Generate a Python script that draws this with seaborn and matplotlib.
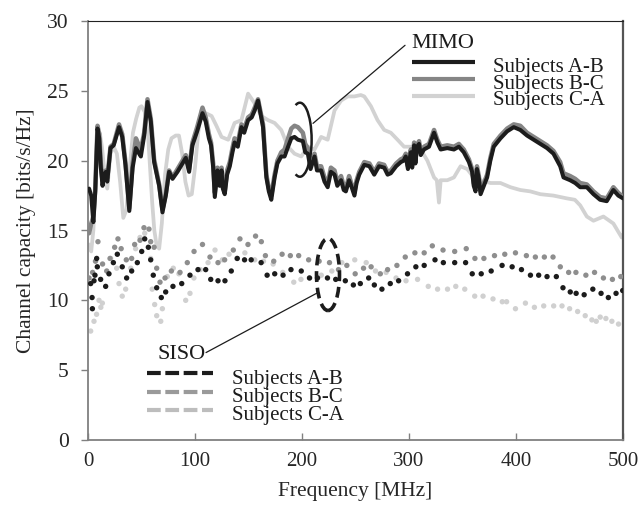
import numpy as np
import pandas as pd
import matplotlib
matplotlib.use("Agg")
import matplotlib.pyplot as plt
from matplotlib.patches import Arc, Ellipse
import seaborn as sns

# ---------------- data ----------------
series_labels = ["Subjects A-B", "Subjects B-C", "Subjects C-A"]

mimo_freq = [1, 3, 5, 6.8, 7.9, 8.9, 10.5, 12, 13.6, 15, 16.7, 18, 21, 24, 29, 32, 35, 38.6, 41.7, 44.8,
             47, 49.4, 52.5, 55.6, 58.7, 61.8, 66.5, 69.6, 72.7, 75.8, 79, 83.6, 88.3, 91.4, 94.5, 97.6,
             102, 107, 110, 113, 115, 117, 118.5, 121, 123, 124.8, 126, 127.8, 130, 132.5, 135, 137, 140,
             143.4, 146, 149.6, 153, 155.8, 158.9, 163.6, 166.7, 169, 171.3, 174.4, 177, 180.6, 183.7, 187,
             190, 193, 196.2, 200.8, 203, 205.5, 208, 211.7, 214, 217.9, 221, 224, 227, 230.4, 233, 236.5,
             239, 241, 244, 246, 249, 251, 253.5, 258.2, 263, 267.5, 272, 276.8, 280, 283, 288, 292.4, 295,
             297, 299, 301.7, 303, 304.8, 306, 307.5, 309.4, 311, 314, 318.7, 323.4, 326.5, 329.6, 335.8,
             342, 346.6, 351.2, 356, 359, 360.5, 362.2, 363.5, 365.3, 366.9, 370, 373, 376, 379.2, 385.5,
             391.7, 397.9, 404, 410.3, 416.5, 422.7, 429, 435, 441.3, 444.4, 450.6, 455.3, 460, 466.2,
             472.4, 478.6, 484.8, 491, 495.6, 500]
mimo_ab = [18.0, 17.5, 15.6, 17.8, 20.3, 22.3, 21.6, 19.5, 18.2, 19.0, 19.2, 18.5, 20.9, 21.1, 22.4, 21.7,
           19.7, 16.4, 19.5, 20.9, 20.6, 20.3, 21.8, 24.2, 22.8, 19.9, 18.2, 16.3, 17.5, 19.2, 18.7, 19.2,
           19.8, 20.2, 19.2, 21.1, 22.1, 23.4, 22.8, 21.6, 21.1, 19.5, 17.4, 19.3, 18.2, 19.3, 18.0, 17.6,
           19.0, 19.6, 20.6, 21.3, 21.0, 22.4, 22.0, 22.9, 23.1, 23.6, 24.3, 22.4, 18.8, 17.8, 17.2, 18.8,
           19.8, 20.3, 20.3, 21.0, 21.6, 21.7, 21.5, 21.4, 20.6, 20.5, 19.4, 20.3, 19.3, 19.3, 18.5, 18.1,
           19.2, 19.0, 18.2, 18.6, 17.9, 17.8, 18.6, 18.2, 17.5, 18.4, 19.0, 19.7, 19.6, 19.0, 19.6, 19.5,
           19.0, 19.1, 19.6, 19.9, 20.0, 20.3, 19.4, 20.6, 19.5, 21.1, 19.8, 21.0, 21.2, 20.4, 20.8, 21.0,
           22.0, 21.3, 20.8, 20.9, 20.8, 21.0, 20.6, 19.9, 19.2, 18.2, 17.8, 19.4, 18.7, 17.6, 18.2, 18.8,
           20.0, 21.0, 21.6, 22.1, 22.4, 22.2, 21.8, 21.5, 21.2, 20.9, 20.5, 19.6, 18.8, 18.6, 18.4, 18.1,
           18.1, 17.6, 17.2, 17.1, 17.9, 17.5, 17.3]
mimo_bc = [14.8, 15.5, 16.0, 18.0, 20.5, 22.5, 21.9, 19.8, 18.5, 19.2, 19.3, 18.7, 21.0, 21.2, 22.6, 21.9,
           19.9, 16.6, 19.8, 21.6, 21.2, 20.8, 22.0, 24.4, 23.0, 20.1, 18.3, 16.5, 17.6, 19.3, 18.8, 19.4,
           20.0, 20.4, 19.4, 21.3, 22.4, 23.8, 23.1, 21.9, 21.3, 19.8, 17.7, 19.5, 18.5, 19.5, 18.2, 17.8,
           19.3, 19.9, 20.9, 21.6, 21.3, 22.6, 22.3, 23.1, 23.3, 23.8, 24.4, 22.6, 19.0, 18.0, 17.5, 19.0,
           20.0, 20.6, 20.8, 21.6, 22.3, 22.5, 22.4, 22.0, 21.2, 20.9, 19.6, 20.5, 19.6, 19.6, 18.8, 18.4,
           19.5, 19.3, 18.5, 18.9, 18.2, 18.0, 18.9, 18.4, 17.7, 18.6, 19.2, 19.9, 19.8, 19.2, 19.8, 19.7,
           19.2, 19.3, 19.8, 20.1, 20.2, 20.5, 19.6, 20.8, 19.7, 21.3, 20.0, 21.1, 21.4, 20.6, 21.0, 21.2,
           22.2, 21.5, 21.0, 21.1, 21.0, 21.2, 20.8, 20.1, 19.4, 18.4, 18.0, 19.6, 18.9, 17.8, 18.4, 19.0,
           20.2, 21.2, 21.8, 22.3, 22.6, 22.5, 22.0, 21.7, 21.4, 21.1, 20.7, 19.9, 19.1, 18.9, 18.7, 18.4,
           18.3, 17.8, 17.4, 17.3, 18.1, 17.7, 17.4]

mimo_ca_freq = [1, 3, 5, 7, 9, 11, 13, 15, 18, 21, 24, 27, 30, 33, 36, 39, 42, 45, 48, 50, 53, 56, 58, 60,
                62, 64, 66.5, 69, 72, 75, 78, 82, 85, 88, 91, 94, 97, 100, 103, 106, 110, 115.5, 120, 124.8,
                131, 137, 143.4, 147, 149.6, 155.8, 162, 168.3, 174.4, 180.6, 186.9, 193, 199.3, 205.5,
                211.7, 217.9, 224, 230.4, 236.5, 242.7, 248.9, 255, 258.2, 264.4, 270.6, 276.8, 283, 289.3,
                295.4, 301.7, 306, 311, 317.2, 323.4, 326, 328, 329.6, 335.8, 342, 348.2, 354.4, 360.6,
                366.9, 376.2, 385.5, 394.8, 404, 413.4, 422.7, 435, 447.5, 455, 460, 466.2, 472.4, 481.7,
                491, 498.8, 500]
mimo_ca = [14.0, 13.5, 15.0, 18.5, 21.5, 22.0, 21.0, 19.5, 18.0, 20.5, 21.0, 20.5, 18.5, 15.9, 16.5, 19.5,
           22.0, 23.0, 23.8, 23.9, 23.5, 22.0, 19.5, 17.0, 15.0, 14.0, 13.7, 15.5, 19.0, 20.8, 21.6, 21.8,
           21.8, 20.5, 18.5, 17.5, 17.6, 19.5, 22.0, 23.6, 23.4, 23.2, 22.5, 21.7, 21.5, 22.7, 22.9, 24.0,
           24.8, 24.1, 23.2, 22.9, 22.7, 22.2, 21.0, 20.5, 20.3, 21.0, 20.8, 21.7, 21.5, 23.6, 24.3, 24.6,
           24.6, 24.7, 24.6, 23.9, 22.9, 22.2, 22.0, 21.5, 21.0, 21.0, 20.9, 20.8, 20.0, 18.8, 18.6, 17.0,
           18.6, 18.6, 18.8, 19.6, 19.4, 18.8, 18.6, 18.4, 18.4, 18.1, 17.9, 17.8, 17.6, 17.5, 17.3, 17.2,
           16.8, 16.0, 15.7, 16.0, 15.5, 14.5, 14.7]

siso_ab_freq = [2.5, 3.8, 4.1, 5.6, 6.5, 8.1, 8.7, 11.8, 16.5, 19.6, 23.7, 27.4, 32, 36.1, 40.8, 46.1, 50.2,
                53, 56.4, 58.6, 61, 64.2, 68.5, 72.6, 79.4, 87.6, 95.3, 102.8, 110, 114.7, 121.5, 128, 133.9,
                139.5, 146.3, 152.5, 161.8, 167.4, 174.5, 182.3, 189.7, 199.3, 207, 214.5, 223.8, 231.5,
                240.5, 248, 254.5, 262.3, 267.6, 274.7, 282.5, 290.3, 298.6, 306.4, 314.2, 324.3, 332.1,
                342.7, 352.9, 359.1, 367.5, 376.8, 387, 396.4, 405.1, 413.5, 421.2, 429, 437.7, 443.9, 450.7,
                456.2, 463.7, 471.8, 479.5, 486.3, 493.5, 499.7]
siso_ab = [11.2, 10.2, 9.4, 11.4, 11.8, 13.0, 12.4, 11.5, 11.0, 11.9, 12.7, 13.3, 12.4, 11.6, 12.1, 12.7, 13.5,
           14.4, 13.8, 12.9, 11.8, 10.9, 10.2, 10.6, 11.0, 11.2, 11.8, 12.2, 12.2, 11.5, 11.4, 11.4, 12.1,
           13.0, 12.9, 12.9, 12.7, 11.8, 11.9, 11.8, 12.2, 12.1, 11.6, 11.6, 11.6, 11.5, 11.4, 11.1, 11.2,
           11.6, 11.1, 10.8, 11.2, 11.4, 11.9, 12.4, 12.5, 12.9, 12.7, 12.7, 12.7, 11.9, 11.9, 12.1, 12.5,
           12.4, 12.2, 11.8, 11.8, 11.7, 11.7, 10.9, 10.6, 10.5, 10.4, 10.8, 10.5, 10.2, 10.5, 10.7]

siso_bc_freq = [1, 4.3, 7, 9.3, 13.6, 17.5, 20.6, 24.9, 28, 31, 35.8, 40.8, 43.6, 48.6, 52.3, 57, 58.6, 61.8,
                64.2, 67.3, 72, 77.9, 86, 92.8, 99.1, 107, 114, 121.5, 127.7, 135.8, 142, 149.5, 156.6, 162,
                165.8, 173.6, 181.4, 189.1, 196.9, 206.2, 216, 225.7, 234.1, 241.9, 249.7, 257.5, 264.6,
                273.2, 280, 288.7, 296.5, 305.5, 314.2, 321.8, 331.8, 342.7, 353.5, 361.6, 370, 379.9,
                389.5, 399.5, 409.7, 418.1, 426.5, 434.6, 441.4, 449.2, 456, 465.3, 473.4, 481.7, 490.1, 497.9]
siso_bc = [11.6, 12.0, 12.8, 14.2, 12.6, 12.1, 13.0, 13.8, 14.4, 13.7, 12.9, 13.0, 14.0, 14.3, 15.2, 15.1,
           14.2, 13.8, 12.3, 11.3, 11.6, 12.1, 12.0, 12.7, 13.5, 14.0, 13.1, 12.7, 12.9, 13.6, 14.4, 14.0,
           14.6, 14.2, 13.2, 12.8, 13.3, 13.2, 13.2, 12.9, 12.8, 12.7, 12.2, 12.5, 11.9, 12.3, 12.4, 11.9,
           12.2, 12.5, 13.1, 13.4, 13.4, 13.9, 13.6, 13.5, 13.7, 13.0, 13.0, 13.2, 13.3, 13.4, 13.2, 13.1,
           13.1, 13.1, 12.4, 12.0, 12.0, 11.8, 12.0, 11.6, 11.5, 11.7]

siso_ca_freq = [2.5, 5.6, 8, 10.3, 12, 13.4, 21.2, 26.8, 29, 32, 35.2, 40, 44.5, 48.6, 53, 58.6, 60, 62.3,
                64.2, 68, 69.5, 74.1, 79.7, 85, 91.3, 95.3, 99, 105, 112.2, 118.7, 125.6, 131.8, 139, 146.6,
                155.8, 164, 173, 182, 192.3, 199, 207.2, 218, 227.9, 237.2, 249.3, 260, 268.7, 278.6, 287.9,
                297.2, 308, 318, 326.7, 336, 343.7, 352.1, 361.4, 369.2, 378.5, 387.2, 391.2, 399.5, 408.8,
                417.2, 425.9, 435.2, 443, 450.1, 457.6, 464.7, 470.9, 475, 478.7, 484, 489.6, 495.8]
siso_ca = [7.8, 8.5, 9.0, 10.0, 9.5, 9.8, 13.0, 12.3, 11.2, 10.3, 10.8, 12.3, 13.7, 14.5, 14.8, 13.0, 10.8,
           9.7, 8.9, 8.5, 9.4, 11.7, 12.3, 11.9, 10.0, 10.5, 11.6, 12.2, 12.7, 13.6, 12.9, 13.3, 13.0, 13.4,
           12.9, 12.8, 12.6, 12.0, 11.3, 11.5, 11.6, 11.8, 12.1, 12.7, 12.9, 12.7, 12.1, 12.0, 11.6, 11.4,
           11.5, 11.0, 10.8, 10.8, 11.0, 10.8, 10.3, 10.3, 10.1, 9.9, 9.9, 9.4, 9.8, 9.5, 9.6, 9.6, 9.6, 9.4,
           9.2, 8.9, 8.6, 8.5, 8.8, 8.7, 8.5, 8.3]

x_ticks = [0, 100, 200, 300, 400, 500]
y_ticks = [0, 5, 10, 15, 20, 25, 30]

# ---------------- style ----------------
sns.set_theme(style="white")
plt.rcParams["font.family"] = ["Liberation Serif", "DejaVu Serif"]

mimo_colors = ["#1c1c1c", "#858585", "#d2d2d2"]
siso_colors = ["#1c1c1c", "#8e8e8e", "#d0d0d0"]
legend_siso_colors = ["#1c1c1c", "#9a9a9a", "#bdbdbd"]

fig = plt.figure(figsize=(6.38, 5.09), dpi=100)
ax = fig.add_axes([88 / 638, 1 - 440 / 509, 535 / 638, 419 / 509])

# MIMO lines (C-A bottom, then B-C, A-B on top)
sns.lineplot(x=mimo_ca_freq, y=mimo_ca, ax=ax, color=mimo_colors[2], lw=2.7, sort=False,
             estimator=None, zorder=2)
sns.lineplot(x=mimo_freq, y=mimo_bc, ax=ax, color=mimo_colors[1], lw=3.2, sort=False,
             estimator=None, zorder=3)
sns.lineplot(x=mimo_freq, y=mimo_ab, ax=ax, color=mimo_colors[0], lw=2.9, sort=False,
             estimator=None, zorder=4)

# SISO dots
for fx, fy, c, z in [(siso_ca_freq, siso_ca, siso_colors[2], 2),
                     (siso_bc_freq, siso_bc, siso_colors[1], 3),
                     (siso_ab_freq, siso_ab, siso_colors[0], 4)]:
    sns.scatterplot(x=fx, y=fy, ax=ax, color=c, s=15, edgecolor="none", linewidth=0, zorder=z)

ax.set_xlim(0, 500)
ax.set_ylim(0, 30)
ax.set_xticks(x_ticks)
ax.set_yticks(y_ticks)
ax.tick_params(axis="y", direction="out", length=5, width=1, color="#808080", pad=9, labelsize=15.5,
               left=True)
ax.tick_params(axis="x", direction="in", length=5, width=1, color="#808080", pad=9, labelsize=15,
               bottom=True)
ax.set_xlabel("Frequency [MHz]", fontsize=15.5)
ax.set_ylabel("Channel capacity [bits/s/Hz]", fontsize=15.5)
ax.xaxis.set_label_coords(0.5, -0.10)
ax.yaxis.set_label_coords(-0.097, 0.5)
for side in ["left", "bottom"]:
    ax.spines[side].set_color("#808080")
    ax.spines[side].set_linewidth(1.3)
ax.spines["top"].set_color("#222222")
ax.spines["top"].set_linewidth(0.8)
ax.spines["right"].set_color("#555555")
ax.spines["right"].set_linewidth(1.6)

# MIMO annotation
ax.add_patch(Arc((198, 21.5), 22, 5.3, theta1=-148, theta2=148, color="#1c1c1c", lw=1.8, zorder=6))
ax.plot([210.3, 296.3], [22.67, 28.26], color="#1c1c1c", lw=0.9, zorder=6)
ax.text(302.6, 28.4, "MIMO", fontsize=16, ha="left", va="center", color="#1c1c1c")

# SISO annotation
ax.add_patch(Ellipse((224.3, 11.85), 21.5, 5.16, fill=False, edgecolor="#1c1c1c", lw=2.6,
                     linestyle=(0, (3.0, 1.6)), zorder=6))
ax.plot([215, 110.3], [10.56, 6.26], color="#1c1c1c", lw=0.9, zorder=6)
ax.text(65.4, 6.15, "SISO", fontsize=16, ha="left", va="center", color="#1c1c1c")

# MIMO legend
mimo_leg_y = [27.07, 25.83, 24.63]
mimo_leg_base = [26.35, 25.15, 24.0]
for i in range(3):
    ax.plot([302.5, 361.8], [mimo_leg_y[i]] * 2, color=mimo_colors[i], lw=3.0, solid_capstyle="butt")
    ax.text(378.5, mimo_leg_base[i], series_labels[i], fontsize=15, ha="left", va="baseline",
            color="#1c1c1c")

# SISO legend
siso_leg_y = [4.77, 3.41, 2.15]
siso_leg_base = [4.01, 2.70, 1.43]
for i in range(3):
    ax.plot([55.1, 116.8], [siso_leg_y[i]] * 2, color=legend_siso_colors[i], lw=3.0,
            linestyle=(0, (3.3, 1.1)), dash_capstyle="butt")
    ax.text(134.3, siso_leg_base[i], series_labels[i], fontsize=15, ha="left", va="baseline",
            color="#1c1c1c")

fig.savefig("out.png", dpi=100)
